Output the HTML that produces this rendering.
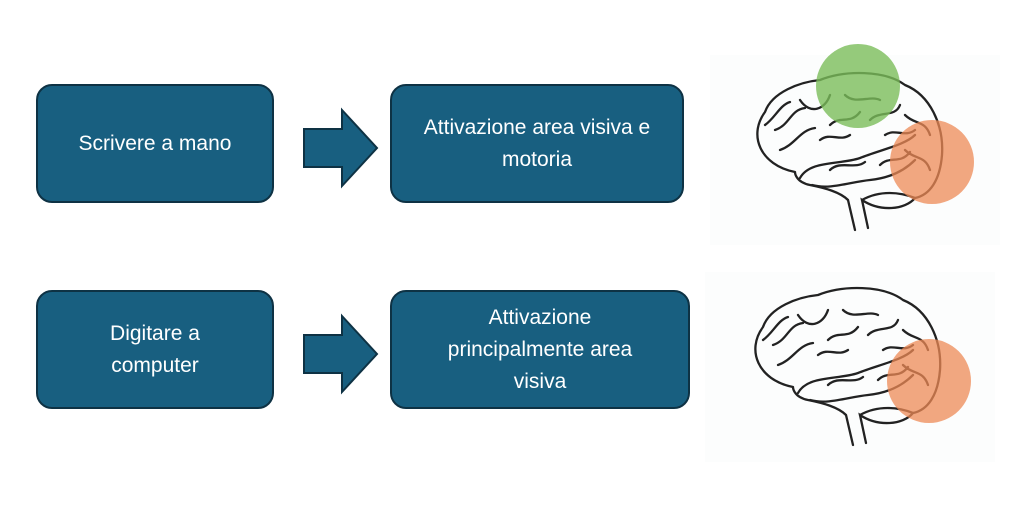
<!DOCTYPE html>
<html><head><meta charset="utf-8"><style>
body{margin:0;width:1024px;height:516px;background:#fff;position:relative;overflow:hidden;font-family:"Liberation Sans",sans-serif}
.b{position:absolute;background:#185F80;border:2px solid #0e3244;border-radius:16px;box-sizing:border-box;color:#fff;font-size:21px;line-height:32px;display:flex;align-items:center;justify-content:center;text-align:center}
svg{position:absolute;left:0;top:0}
</style></head><body>
<div class="b" style="left:36px;top:84px;width:238px;height:119px">Scrivere a mano</div>
<div class="b" style="left:390px;top:84px;width:294px;height:119px;padding:0 20px">Attivazione area visiva e motoria</div>
<div class="b" style="left:36px;top:290px;width:238px;height:119px;padding:0 50px">Digitare a computer</div>
<div class="b" style="left:390px;top:290px;width:300px;height:119px;padding:0 40px">Attivazione principalmente area visiva</div>
<svg width="1024" height="516">
<defs>
<g id="brain" fill="none" stroke="#222" stroke-width="2.3" stroke-linecap="round">
<path d="M795,172 C760,165 748,135 765,112 C772,92 800,82 820,80 C845,70 885,70 905,85 C930,95 944,125 942,155 C940,180 930,195 915,198 C905,210 880,212 862,200 L868,228 M855,230 L848,200 C840,192 825,188 810,185 C795,182 795,172 795,172"/>
<path d="M800,178 C810,160 840,165 860,158 C880,150 905,145 915,135 M812,185 C830,190 850,182 870,180 C890,178 905,170 915,160"/>
<path d="M862,200 C880,190 900,192 915,198"/>
<path d="M775,130 C790,125 790,110 805,108 M780,150 C795,145 800,130 815,128 M800,100 C810,115 825,110 830,95 M830,125 C840,115 850,125 860,112 M845,95 C855,105 870,95 880,100 M870,120 C880,110 895,118 900,105 M905,115 C915,125 925,120 930,135 M905,150 C915,160 925,155 930,170 M830,170 C840,160 855,170 865,162 M880,165 C890,155 900,165 910,152 M765,125 C775,118 780,105 790,102 M820,140 C830,132 840,142 850,135 M885,135 C895,128 905,138 915,130"/>
</g>
</defs>
<polygon points="304,129 342,129 342,110 377,148 342,186 342,167 304,167" fill="#185F80" stroke="#0e3244" stroke-width="2"/>
<polygon points="304,335 342,335 342,316 377,354 342,392 342,373 304,373" fill="#185F80" stroke="#0e3244" stroke-width="2"/>
<rect x="710" y="55" width="290" height="190" fill="#fcfdfd"/>
<rect x="705" y="272" width="290" height="190" fill="#fcfdfd"/>
<use href="#brain"/>
<use href="#brain" transform="translate(-2,215)"/>
<circle cx="858" cy="86" r="42" fill="#7bbd5a" fill-opacity="0.8"/>
<circle cx="932" cy="162" r="42" fill="#ee8a55" fill-opacity="0.75"/>
<circle cx="929" cy="381" r="42" fill="#ee8a55" fill-opacity="0.75"/>
</svg>
</body></html>
